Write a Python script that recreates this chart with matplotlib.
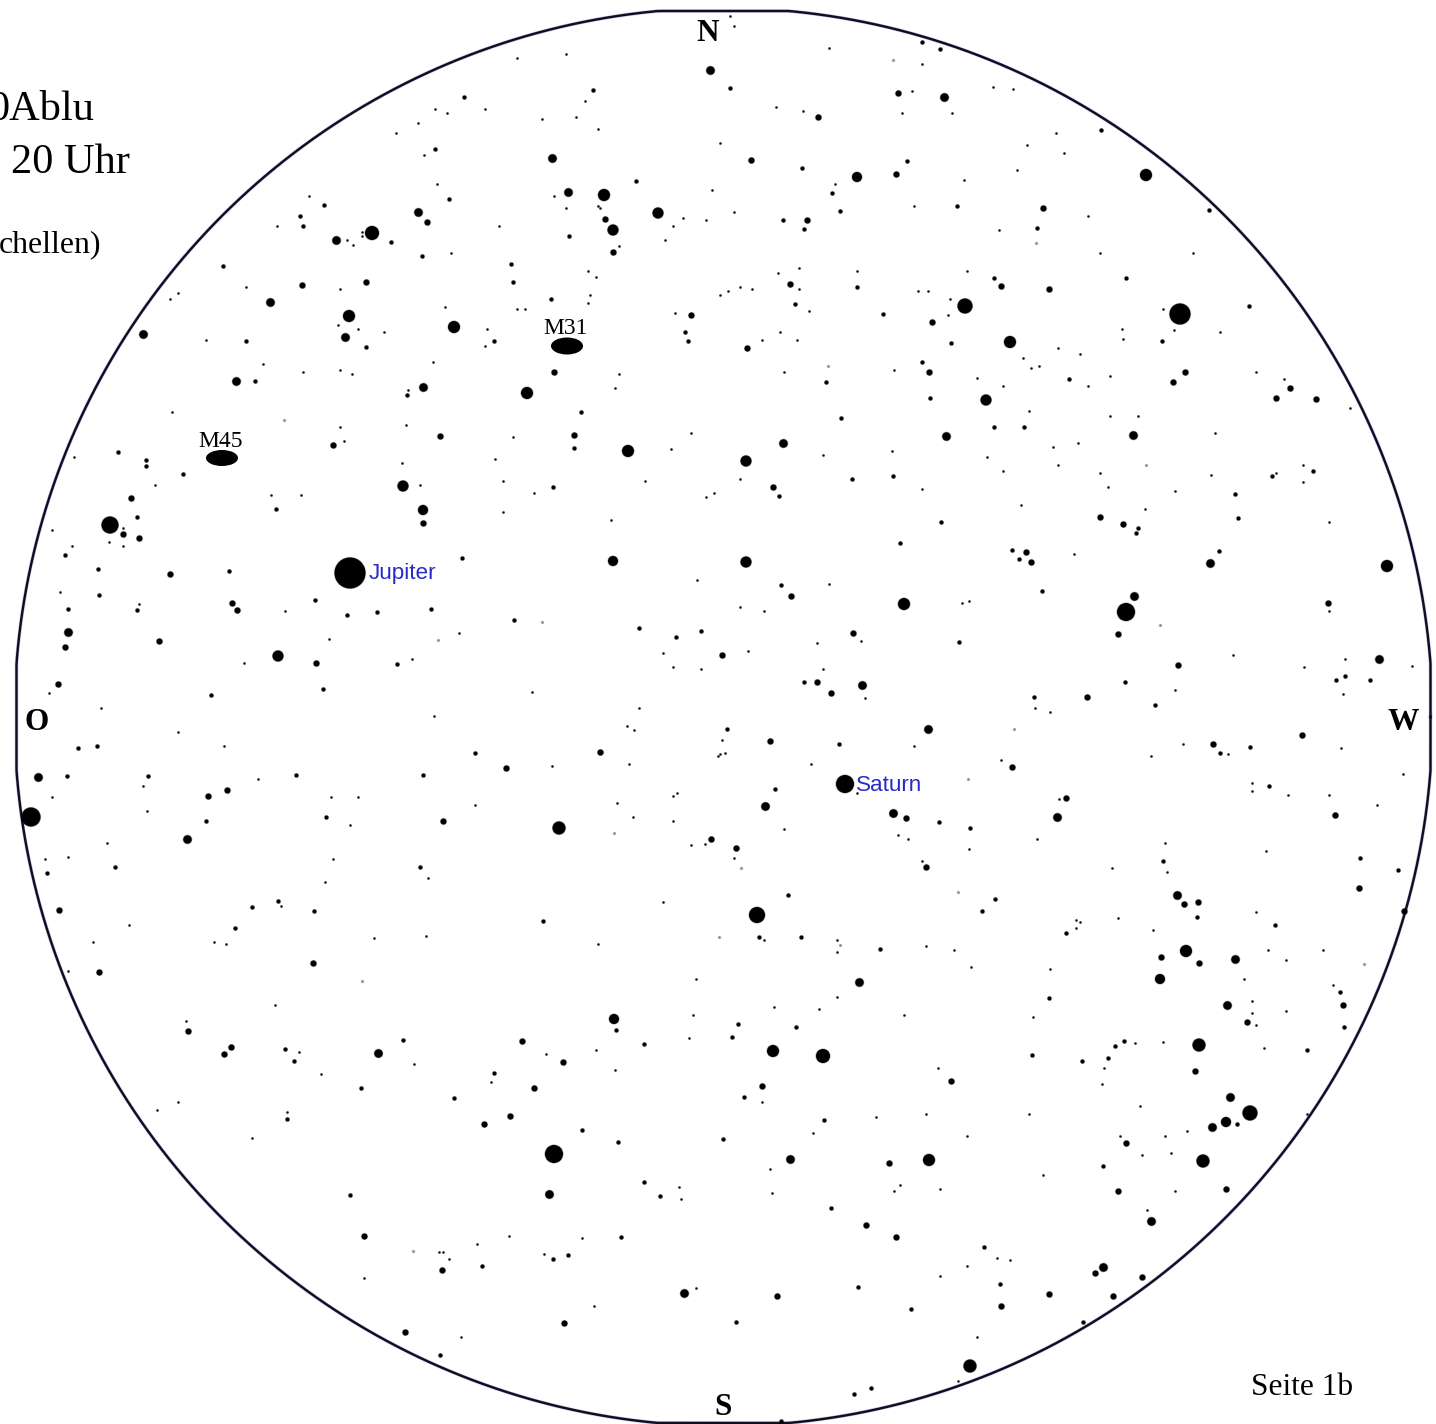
import numpy as np
import matplotlib
matplotlib.use('Agg')
import matplotlib.pyplot as plt
from matplotlib.patches import Ellipse

# star positions, in image pixels, one list per brightness class
tiny = [
    (418,123),(396,133),(435,109),(447,113),(424,155),(437,184),(309,196),(277,226),(362,232),(362,236),
    (353,245),(347,240),(451,253),(246,287),(340,289),(178,293),(170,299),(445,307),(338,325),(358,329),
    (384,332),(206,340),(263,364),(433,362),(303,372),(340,370),(352,374),(408,390),(172,412),(340,427),
    (406,425),(344,441),(74,457),(402,463),
    (730,16),(734,26),(829,48),(922,64),(517,58),(566,54),(585,101),(485,109),(542,119),(576,117),
    (598,129),(912,91),(776,107),(803,111),(902,113),(952,113),(720,143),(712,190),(835,184),(554,196),
    (566,208),(598,206),(600,208),(683,218),(706,220),(734,212),(673,226),(499,226),(665,240),(914,206),
    (619,246),(588,271),(596,277),(590,295),(588,303),(517,309),(525,309),(778,273),(799,268),(857,271),
    (799,289),(740,287),(752,289),(728,291),(720,295),(918,291),(928,291),(950,299),(809,311),(675,313),
    (948,315),(487,329),(485,346),(780,332),(762,340),(797,340),(619,374),(615,388),(784,372),(894,370),
    (513,437),(691,433),(495,459),(671,449),(823,455),(892,451),(740,479),
    (993,87),(1013,89),(1056,133),(1027,145),(1064,153),(1017,170),(964,180),(1088,216),(999,230),(1100,253),
    (1193,253),(967,271),(1163,309),(1174,330),(1122,329),(1123,339),(1058,348),(1080,354),(1023,358),(1031,368),
    (1039,366),(977,378),(1003,386),(1088,386),(1110,376),(1256,372),(1284,379),(1029,411),(1110,416),(1138,416),
    (1215,433),(1053,447),(1078,443),(987,457),(1058,465),(1003,471),(1100,473),(1211,475),(1303,465),(1350,408),
    (1276,473),(1220,332),
    (155,485),(271,495),(301,495),(420,485),(52,530),(72,546),(109,542),(123,546),(123,528),(60,592),
    (139,604),(285,611),(329,639),(412,659),(244,663),(459,633),(49,693),(101,708),(434,716),(178,732),
    (224,746),(258,779),(143,786),(52,797),(331,797),(358,797),(147,811),(350,825),(107,843),(45,859),
    (68,857),(333,859),(325,882),(428,878),(281,906),(129,925),(93,942),(214,942),(226,944),(374,938),
    (426,936),(475,805),
    (503,481),(534,493),(503,512),(611,520),(645,481),(706,497),(714,493),(922,489),(697,580),(829,584),
    (740,607),(764,611),(748,651),(817,643),(861,641),(663,653),(673,667),(701,669),(823,669),(532,692),
    (865,698),(639,708),(627,726),(634,730),(722,740),(914,746),(718,756),(720,754),(725,753),(552,766),
    (629,764),(811,764),(677,793),(673,796),(617,803),(633,817),(673,821),(784,829),(898,835),(908,839),
    (691,845),(705,844),(734,858),(922,861),(663,902),(598,944),(764,940),(837,940),(837,952),(926,946),
    (954,950),(857,793),
    (1108,487),(1175,491),(1303,482),(1021,505),(1145,509),(1329,522),(1074,554),(969,601),(962,603),(1329,611),
    (1233,655),(1304,667),(1345,659),(1175,690),(1343,694),(1035,708),(1050,712),(1183,744),(1151,756),(1001,760),
    (1228,754),(1341,748),(1403,774),(1252,783),(1252,791),(1288,795),(1329,795),(1377,805),(1059,799),(1037,839),
    (969,849),(1165,843),(1266,851),(1112,868),(1167,872),(1256,912),(1118,918),(1076,920),(1080,922),(1076,928),
    (1153,930),(1268,950),(1323,950),(1412,666),
    (68,971),(275,1005),(186,1021),(299,1052),(321,1074),(414,1064),(178,1102),(157,1110),(287,1112),(252,1138),
    (477,1244),(439,1252),(443,1252),(449,1259),(364,1278),(461,1337),
    (696,979),(837,997),(774,1007),(819,1009),(693,1015),(904,1015),(689,1038),(596,1050),(546,1054),(938,1068),
    (615,1070),(491,1082),(762,1102),(876,1117),(926,1114),(813,1133),(770,1169),(679,1187),(681,1199),(772,1193),
    (900,1185),(894,1191),(940,1189),(509,1236),(582,1238),(544,1254),(940,1276),(594,1306),(696,1288),(958,1381),
    (971,967),(1050,969),(1286,960),(1244,979),(1252,1001),(1252,1013),(1286,1011),(1256,1025),(1333,985),(1033,1017),
    (1135,1043),(1163,1042),(1264,1048),(1104,1068),(1102,1084),(1140,1106),(1029,1114),(1307,1114),(967,1136),(1120,1136),
    (1165,1136),(1187,1131),(1142,1155),(1171,1153),(1043,1175),(1175,1191),(1147,1210),(997,1258),(1010,1260),(967,1266),
    (977,1337),
]
faint = [
    (284,420),(893,60),(828,366),(1036,243),(1146,465),(438,640),(542,622),(614,833),(741,868),(958,892),
    (719,937),(840,945),(1160,625),(1014,729),(968,779),(413,1251),(362,981),(1364,964),
]
small = [
    (464,97),(435,149),(324,205),(300,216),(303,226),(391,242),(422,256),(449,199),(223,266),(246,341),
    (366,347),(255,381),(407,395),(118,452),(146,460),(146,466),(183,474),
    (730,88),(922,42),(940,49),(636,181),(802,168),(907,161),(569,236),(832,193),(840,211),(957,206),
    (783,220),(804,229),(511,264),(513,282),(551,299),(857,287),(795,304),(883,314),(685,332),(688,341),
    (494,341),(951,343),(922,362),(826,382),(930,398),(581,412),(841,418),(574,448),(893,476),(593,90),(852,479),
    (1101,130),(1209,210),(1037,228),(994,278),(1126,278),(1249,306),(1162,341),(1069,379),(994,427),(1024,427),
    (1313,471),(1272,476),
    (276,509),(137,517),(65,555),(98,569),(99,595),(68,609),(137,610),(229,571),(315,600),(347,615),
    (377,612),(431,609),(211,695),(323,689),(78,748),(97,746),(67,776),(148,776),(296,775),(326,817),
    (206,821),(115,867),(47,873),(420,867),(252,907),(314,911),(278,901),(235,928),(397,664),(423,775),
    (475,753),(462,558),
    (553,487),(514,620),(639,628),(676,637),(701,631),(727,729),(781,585),(941,522),(900,543),(959,642),
    (839,744),(775,789),(939,822),(543,921),(759,937),(801,937),(880,949),(788,895),(779,496),(804,682),
    (1238,518),(1235,494),(1138,528),(1136,533),(1012,550),(1019,559),(1219,551),(1042,591),(1034,697),(1155,705),
    (1250,747),(1336,680),(1345,676),(1370,680),(1220,753),(1269,786),(995,899),(982,911),(970,828),(1163,861),
    (1360,858),(1398,870),(1197,917),(1066,933),(1275,925),(1125,682),
    (285,1049),(294,1061),(403,1040),(361,1088),(454,1098),(287,1119),(350,1195),(440,1355),
    (738,1024),(796,1027),(616,1030),(644,1044),(732,1037),(494,1073),(744,1097),(824,1120),(723,1139),(582,1130),
    (618,1142),(644,1182),(660,1196),(831,1208),(621,1237),(553,1259),(568,1255),(482,1266),(736,1322),(858,1287),
    (911,1309),(871,1388),(854,1394),(781,1421),
    (1049,998),(1340,992),(1032,1055),(1082,1061),(1115,1046),(1124,1041),(1108,1058),(1103,1166),(1237,1124),(984,1247),
    (1000,1284),(1083,1322),(1307,1050),(1344,1027),
]
medium = [
    (427,222),(302,285),(366,282),(440,436),(333,445),
    (898,93),(751,160),(896,174),(605,219),(613,252),(807,220),(691,315),(790,284),(747,348),(932,322),
    (929,372),(554,372),(574,435),(818,117),
    (1043,208),(1049,289),(1290,388),(1276,398),(1316,399),(1173,382),(1001,286),(1185,372),
    (139,538),(123,534),(170,574),(232,603),(237,610),(159,641),(58,684),(65,647),(316,663),(227,790),
    (208,796),(443,821),(423,523),(59,910),(131,498),
    (773,487),(791,596),(853,633),(722,655),(817,682),(831,693),(770,741),(600,752),(506,768),(711,839),
    (736,848),(906,818),(926,867),
    (1100,517),(1123,524),(1026,552),(1031,562),(1118,634),(1328,603),(1012,767),(1066,798),(1184,904),(1198,902),
    (1359,888),(1335,815),(1302,735),(1213,744),(1178,665),(1087,697),(1404,911),
    (313,963),(99,972),(188,1031),(231,1047),(224,1054),(364,1236),(442,1270),(405,1332),
    (522,1041),(563,1062),(534,1088),(510,1116),(484,1124),(762,1086),(951,1081),(889,1163),(866,1225),(896,1237),
    (777,1296),(564,1323),
    (1161,957),(1199,963),(1343,1005),(1247,1022),(1195,1071),(1126,1143),(1118,1191),(1226,1189),(1001,1306),(1049,1294),
    (1113,1296),(1142,1277),(1095,1273),
]
bright = [
    (418,212),(336,240),(270,302),(143,334),(345,337),(236,381),(423,387),
    (710,70),(552,158),(944,97),(568,192),(946,436),(783,443),
    (1133,435),(68,632),(38,777),(187,839),
    (862,685),(765,806),(928,729),(893,813),(1057,817),
    (1134,596),(1210,563),(1379,659),(1177,895),
    (378,1053),(859,982),(790,1159),(549,1194),(684,1293),
    (1235,959),(1227,1005),(1212,1127),(1151,1221),(1103,1267),(1230,1097),
]
big_x = [372,349,454,604,658,613,527,628,746,857,1146,1010,986,965,1180,403,423,278,110,31,613,746,904,559,757,1126,1387,1186,614,773,823,554,929,1160,1226,1199,1250,1203,970]
big_y = [233,316,327,195,213,230,393,451,461,177,175,342,400,306,314,486,510,656,525,817,561,562,604,828,915,612,566,951,1019,1051,1056,1154,1160,979,1122,1045,1113,1161,1366]
big_d = [14,12,12,12,11,11,12,12,11,10,12,12,11,15,21,11,10,11,17,19,10,11,12,13,16,18,12,12,10,12,14,18,12,10,10,13,15,13,13]

planet_names = ['Jupiter', 'Saturn']
planet_x = [350, 845]
planet_y = [573, 784]
planet_d = [31, 18]
planet_label_x = [369, 856]
planet_label_y = [579, 791]

nebula_names = ['M31', 'M45']
nebula_x = [567, 222]
nebula_y = [346, 458]
nebula_w = [32, 32]
nebula_h = [17, 16]
nebula_label_y = [334, 447]

W, H = 1436, 1424
PX = 72 / 100  # points per pixel at dpi 100


def draw_stars(ax, xs, ys, d, color='black'):
    d = np.asarray(d, dtype=float)
    # soft rim, the scanned original is a bit blurred
    ax.scatter(xs, ys, s=((d + 1.2) * PX) ** 2, c=color, alpha=0.3, linewidths=0, zorder=3)
    ax.scatter(xs, ys, s=(d * PX) ** 2, c=color, linewidths=0, zorder=4)


fig = plt.figure(figsize=(W / 100, H / 100), dpi=100, facecolor='white')
ax = fig.add_axes([0, 0, 1, 1])
ax.set_xlim(0, W)
ax.set_ylim(H, 0)
ax.axis('off')

# horizon circle, flattened where the scan was cropped
t = np.linspace(0, 2 * np.pi, 1500)
cx = np.clip(723.5 + 709 * np.cos(t), 16.5, 1430.5)
cy = np.clip(717 + 709 * np.sin(t), 11, 1423)
ax.plot(cx, cy, color='#c9c9ea', lw=3.6 * PX, zorder=1)
ax.plot(cx, cy, color='#0e0e20', lw=2.4 * PX, zorder=2)

for stars, d, color in [(tiny, 2.1, 'black'), (faint, 2.6, '#8c8c8c'), (small, 4.0, 'black'),
                        (medium, 6.0, 'black'), (bright, 8.5, 'black')]:
    xs, ys = zip(*stars)
    draw_stars(ax, xs, ys, d, color)
draw_stars(ax, big_x, big_y, big_d)
draw_stars(ax, planet_x, planet_y, planet_d)

for name, x, y in zip(planet_names, planet_label_x, planet_label_y):
    ax.text(x, y, name, color='#2a2ac8', fontsize=16.2, family='Liberation Sans', va='baseline', zorder=5)

serif = 'Liberation Serif'
for name, x, y, w, h, ly in zip(nebula_names, nebula_x, nebula_y, nebula_w, nebula_h, nebula_label_y):
    ax.add_patch(Ellipse((x, y), w, h, color='black', lw=0, zorder=4))
    ax.text(x - 1, ly, name, fontsize=17, family=serif, ha='center', va='baseline', zorder=5)

for s, x, y in [('N', 708, 41), ('O', 37, 730), ('S', 723, 1415), ('W', 1403, 730)]:
    ax.text(x, y, s, fontsize=22.5, family=serif, weight='bold', ha='center', va='baseline', zorder=5)

ax.text(-12, 120, '0Ablu', fontsize=30.5, family=serif, va='baseline')
ax.text(11, 173, '20 Uhr', fontsize=30.5, family=serif, va='baseline')
ax.text(-1, 252, 'chellen)', fontsize=22.9, family=serif, va='baseline')
ax.text(1251, 1395, 'Seite 1b', fontsize=22.6, family=serif, va='baseline')

fig.savefig('out.png', dpi=100, facecolor='white')
